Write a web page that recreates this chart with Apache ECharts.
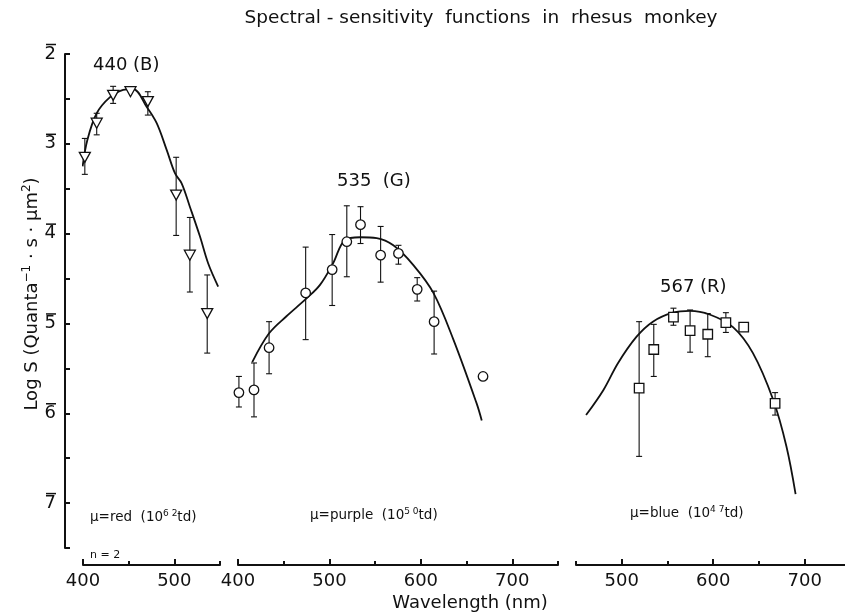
<!DOCTYPE html>
<html><head><meta charset="utf-8">
<script src="https://cdn.jsdelivr.net/npm/echarts@6/dist/echarts.min.js"></script>
<style>html,body{margin:0;padding:0;background:#fff}#c{width:845px;height:615px}</style>
</head><body><div id="c"></div>
<script>
// ---- Data (Log S values; axis shows magnitude with overbar, i.e. negative logs) ----
const yTickValues = [-2, -3, -4, -5, -6, -7];

// Panel 1: μ = red adaptation, 440 (B) mechanism
const blueWl     = [402, 415, 433, 452, 471, 502, 517, 536];
const blueLogS   = [-3.15, -2.77, -2.46, -2.42, -2.53, -3.57, -4.24, -4.89];
const blueErrTop = [-2.94, -2.66, -2.36, null, -2.42, -3.15, -3.82, -4.46];
const blueErrBot = [-3.34, -2.90, -2.55, null, -2.68, -4.02, -4.65, -5.33];
const blueCurveWl   = [399.6, 404.7, 415, 429.6, 444, 455, 469.8, 480.7, 491.7, 500.8, 508, 517, 528, 537, 548];
const blueCurveLogS = [-3.25, -2.96, -2.66, -2.48, -2.40, -2.39, -2.59, -2.77, -3.07, -3.33, -3.44, -3.70, -4.03, -4.33, -4.59];

// Panel 2: μ = purple adaptation, 535 (G) mechanism
const greenWl     = [401, 417.5, 434, 474, 503, 519, 534, 556, 575.5, 596, 614.5, 668];
const greenLogS   = [-5.77, -5.74, -5.27, -4.66, -4.40, -4.09, -3.90, -4.24, -4.22, -4.62, -4.98, -5.59];
const greenErrTop = [-5.59, -5.44, -4.98, -4.15, -4.01, -3.69, -3.70, -3.92, -4.13, -4.49, -4.64, null];
const greenErrBot = [-5.93, -6.04, -5.56, -5.18, -4.80, -4.48, -4.11, -4.54, -4.34, -4.75, -5.34, null];
const greenCurveWl   = [415.6, 434, 453, 474, 489.7, 504, 517, 533.5, 551.7, 569.9, 591.8, 613.7, 635.6, 661, 666.6];
const greenCurveLogS = [-5.43, -5.11, -4.92, -4.73, -4.57, -4.33, -4.07, -4.04, -4.05, -4.13, -4.35, -4.66, -5.18, -5.89, -6.08];

// Panel 3: μ = blue adaptation, 567 (R) mechanism
const redWl     = [519, 535, 556.5, 574.7, 594, 613.8, 633.3, 667.6];
const redLogS   = [-5.72, -5.29, -4.93, -5.08, -5.12, -4.99, -5.04, -5.89];
const redErrTop = [-4.98, -5.01, -4.83, -4.85, -4.89, -4.88, null, -5.77];
const redErrBot = [-6.48, -5.59, -5.02, -5.32, -5.37, -5.10, null, -6.02];
const redCurveWl   = [461, 480, 496, 516, 534, 556, 574.5, 596, 621.6, 643.4, 665.5, 680, 690];
const redCurveLogS = [-6.02, -5.74, -5.44, -5.15, -4.98, -4.88, -4.86, -4.90, -5.04, -5.33, -5.85, -6.37, -6.90];

// x tick labels per panel
const xMajor1 = [400, 500], xMinor1 = [450, 550];
const xMajor2 = [400, 500, 600, 700], xMinor2 = [450, 550, 650, 750];
const xMajor3 = [500, 600, 700], xMinor3 = [450, 550, 650];

// ---- Build chart ----
const FONT = 'DejaVu Sans';
const INK = '#111';
const zip = (a, b) => a.map((v, i) => [v, b[i]]);
const errData = (wl, t, b) => wl.map((w, i) => [w, t[i], b[i]]).filter(d => d[1] != null);

const grids = [
  {left: 83,  top: 54, width: 137, height: 494},
  {left: 238, top: 54, width: 320, height: 494},
  {left: 576, top: 54, width: 269, height: 494}
];
const xr = [[400, 550], [400, 750], [450, 744]];
const majors = [xMajor1, xMajor2, xMajor3];
const minors = [xMinor1, xMinor2, xMinor3];

const xAxes = [];
grids.forEach((g, i) => {
  xAxes.push({
    gridIndex: i, type: 'value', position: 'bottom', offset: 17,
    min: xr[i][0], max: xr[i][1],
    axisLine: {show: true, lineStyle: {color: INK, width: 2}},
    axisTick: {show: true, inside: true, length: 6, lineStyle: {color: INK, width: 2}, customValues: majors[i]},
    axisLabel: {show: true, customValues: majors[i], color: INK, fontFamily: FONT, fontSize: 18, margin: 7},
    splitLine: {show: false}
  });
  xAxes.push({
    gridIndex: i, type: 'value', position: 'bottom', offset: 17,
    min: xr[i][0], max: xr[i][1],
    axisLine: {show: false},
    axisTick: {show: true, inside: true, length: 4, lineStyle: {color: INK, width: 2}, customValues: minors[i]},
    axisLabel: {show: false},
    splitLine: {show: false}
  });
});

const yAxes = grids.map((g, i) => ({
  gridIndex: i, type: 'value', min: -7.5, max: -2, interval: 0.5,
  show: i === 0, position: 'left', offset: 18,
  axisLine: {show: true, lineStyle: {color: INK, width: 2}},
  axisTick: {show: true, inside: true, length: 5, lineStyle: {color: INK, width: 2}},
  axisLabel: {
    color: INK, fontFamily: FONT, fontSize: 18, margin: 9,
    formatter: v => yTickValues.includes(v) ? String(Math.abs(v)) : ''
  },
  splitLine: {show: false}
}));

// overbars above the y tick digits (bar notation for negative characteristic)
const overbarSeries = {
  type: 'custom', xAxisIndex: 0, yAxisIndex: 0, z: 5, clip: false, silent: true,
  data: yTickValues.map(v => [xr[0][0], v]),
  encode: {x: 0, y: 1},
  renderItem: (params, api) => {
    const p = api.coord([api.value(0), api.value(1)]);
    const right = p[0] - 18 - 9;   // axis offset + label margin
    return {type: 'line', shape: {x1: right - 10, y1: p[1] - 9.5, x2: right, y2: p[1] - 9.5},
      style: {stroke: INK, lineWidth: 1.5}};
  }
};

function errorSeries(xi, yi, data) {
  return {
    type: 'custom', xAxisIndex: xi, yAxisIndex: yi, z: 2,
    encode: {x: 0, y: [1, 2]},
    data: data,
    renderItem: (params, api) => {
      const x = api.value(0);
      const p1 = api.coord([x, api.value(1)]);
      const p2 = api.coord([x, api.value(2)]);
      const w = 3;
      const st = {stroke: INK, lineWidth: 1.1};
      return {type: 'group', children: [
        {type: 'line', shape: {x1: p1[0], y1: p1[1], x2: p2[0], y2: p2[1]}, style: st},
        {type: 'line', shape: {x1: p1[0] - w, y1: p1[1], x2: p1[0] + w, y2: p1[1]}, style: st},
        {type: 'line', shape: {x1: p2[0] - w, y1: p2[1], x2: p2[0] + w, y2: p2[1]}, style: st}
      ]};
    }
  };
}
function curveSeries(xi, yi, data) {
  return {type: 'line', xAxisIndex: xi, yAxisIndex: yi, z: 3, data: data, smooth: 0.35,
    showSymbol: false, symbol: 'none', lineStyle: {color: INK, width: 1.8}, silent: true};
}
function markerSeries(xi, yi, data, symbol, size, rot) {
  return {type: 'scatter', xAxisIndex: xi, yAxisIndex: yi, z: 4, data: data,
    symbol: symbol, symbolSize: size, symbolRotate: rot || 0,
    itemStyle: {color: '#fff', borderColor: INK, borderWidth: 1.3, opacity: 1}};
}

const series = [
  overbarSeries,
  errorSeries(0, 0, errData(blueWl, blueErrTop, blueErrBot)),
  curveSeries(0, 0, zip(blueCurveWl, blueCurveLogS)),
  markerSeries(0, 0, zip(blueWl, blueLogS), 'triangle', [11, 10], 180),
  errorSeries(2, 1, errData(greenWl, greenErrTop, greenErrBot)),
  curveSeries(2, 1, zip(greenCurveWl, greenCurveLogS)),
  markerSeries(2, 1, zip(greenWl, greenLogS), 'circle', 9.5),
  errorSeries(4, 2, errData(redWl, redErrTop, redErrBot)),
  curveSeries(4, 2, zip(redCurveWl, redCurveLogS)),
  markerSeries(4, 2, zip(redWl, redLogS), 'rect', 9.5)
];

const txt = (x, y, text, size, extra) => Object.assign({
  type: 'text', x: x, y: y, z: 10,
  style: Object.assign({text: text, fill: INK, font: size + 'px "' + FONT + '"',
    textAlign: 'left', textVerticalAlign: 'middle'}, (extra && extra.style) || {})
}, extra && extra.el || {});

const richMu = (a, b) => ({
  text: '{a|' + a + '}{s|' + b + '}{a|td)}',
  rich: {
    a: {fontFamily: FONT, fontSize: 13.5, fill: INK, color: INK, lineHeight: 16},
    s: {fontFamily: FONT, fontSize: 9, fill: INK, color: INK, lineHeight: 10, verticalAlign: 'top'}
  }
});

const graphic = [
  txt(481, 18, 'Spectral - sensitivity  functions  in  rhesus  monkey', 18.5, {style: {textAlign: 'center'}}),
  txt(93, 65, '440 (B)', 18),
  txt(337, 181, '535  (G)', 18),
  txt(660, 287, '567 (R)', 18),
  txt(470, 603, 'Wavelength (nm)', 18, {style: {textAlign: 'center'}}),
  txt(90, 555, 'n = 2', 11),
  {type: 'text', x: 90, y: 517, z: 10, style: Object.assign({textAlign: 'left', textVerticalAlign: 'middle'}, richMu('μ=red  (10', '6 2'))},
  {type: 'text', x: 310, y: 515, z: 10, style: Object.assign({textAlign: 'left', textVerticalAlign: 'middle'}, richMu('μ=purple  (10', '5 0'))},
  {type: 'text', x: 630, y: 513, z: 10, style: Object.assign({textAlign: 'left', textVerticalAlign: 'middle'}, richMu('μ=blue  (10', '4 7'))},
  {type: 'text', x: 32, y: 294, rotation: Math.PI / 2, z: 10,
    style: {
      text: '{a|Log S (Quanta}{s|−1}{a| · s · μm}{s|2}{a|)}',
      textAlign: 'center', textVerticalAlign: 'middle',
      rich: {
        a: {fontFamily: FONT, fontSize: 18, fill: INK, color: INK, lineHeight: 22},
        s: {fontFamily: FONT, fontSize: 12, fill: INK, color: INK, lineHeight: 13, verticalAlign: 'top'}
      }
    }}
];

const chart = echarts.init(document.getElementById('c'), null, {renderer: 'canvas'});
chart.setOption({
  animation: false,
  backgroundColor: '#fff',
  grid: grids.map(g => Object.assign({outerBoundsMode: 'none', containLabel: false}, g)),
  xAxis: xAxes,
  yAxis: yAxes,
  series: series,
  graphic: graphic
});
</script>
</body></html>
